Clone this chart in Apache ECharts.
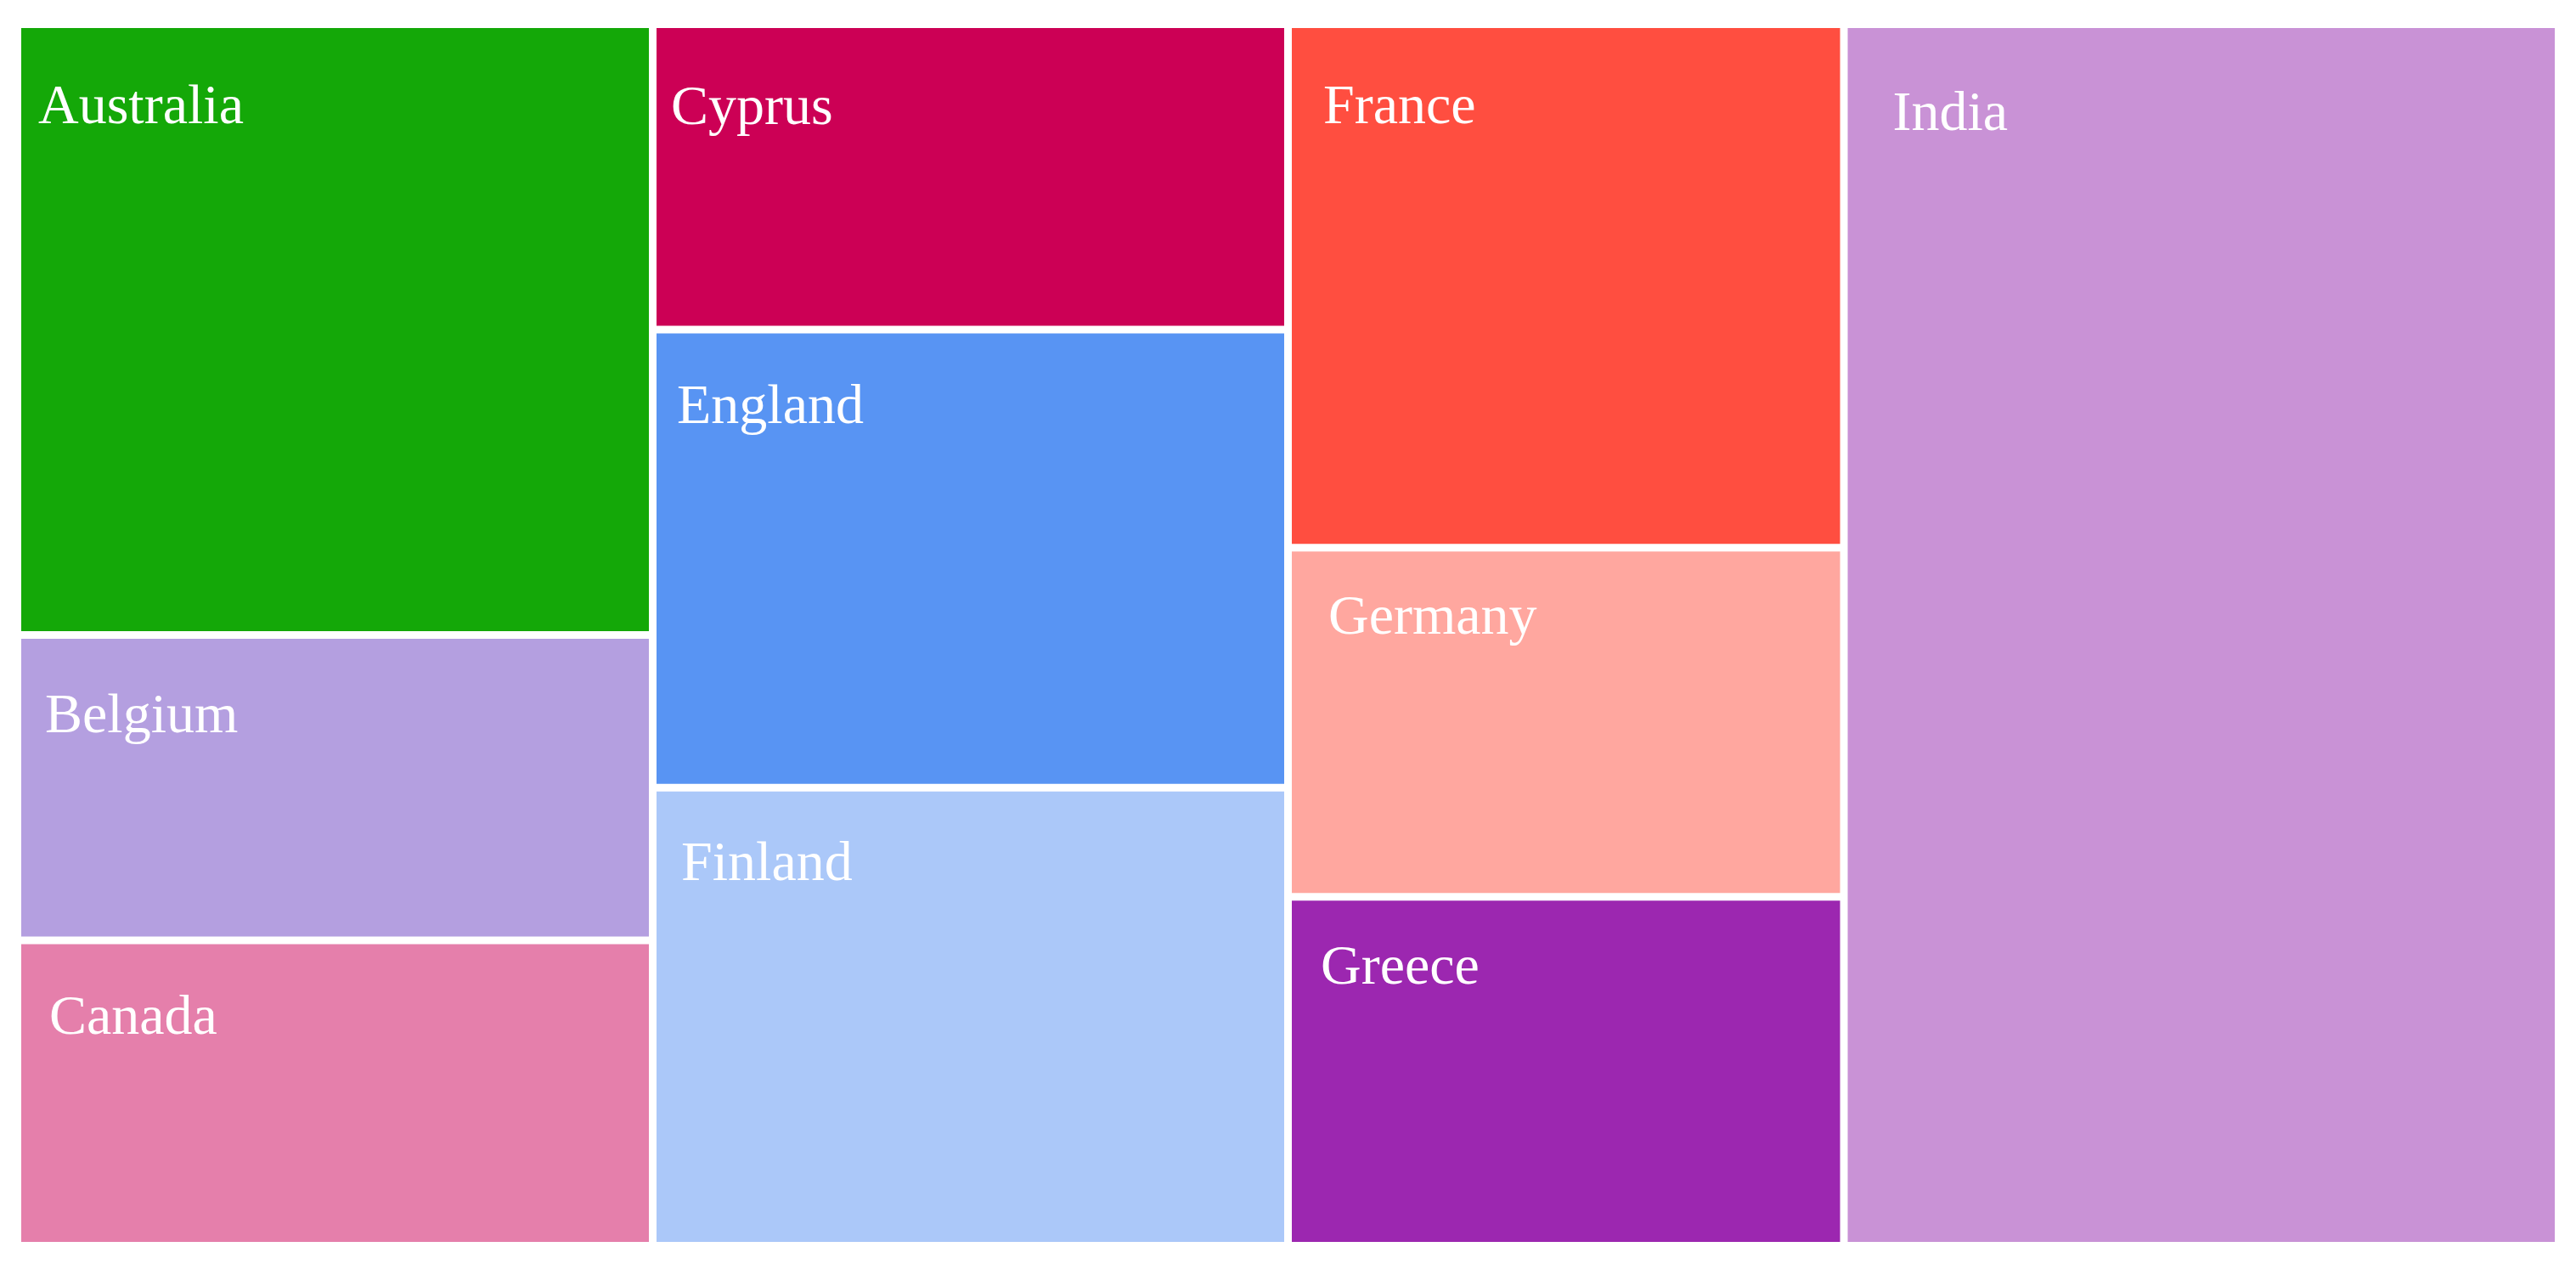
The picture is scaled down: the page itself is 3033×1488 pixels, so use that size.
<!DOCTYPE html>
<html>
<head>
<meta charset="utf-8">
<script src="https://cdn.jsdelivr.net/npm/echarts@6/dist/echarts.min.js"></script>
<style>
  html, body { margin: 0; padding: 0; background: #fff; }
  #chart { width: 3033px; height: 1488px; }
</style>
</head>
<body>
<div id="chart"></div>
<script>
const countries = ['Australia', 'Belgium', 'Canada', 'Cyprus', 'England', 'Finland', 'France', 'Germany', 'Greece', 'India']
const values = [40, 20, 20, 20, 30, 30, 30, 20, 20, 90]
const colors = ['#14a808', '#b49fe0', '#e57fab', '#cc0055', '#5894f3', '#abc8f9', '#ff4e40', '#ffa79f', '#9c27b0', '#c992d6']
// label nudges inside each tile: [top, left]
const labelPads = [[62, 20], [60, 28], [55, 33], [63, 17], [55, 24], [54, 29], [62, 37], [46, 43], [48, 34], [70, 53]]

const chart = echarts.init(document.getElementById('chart'))

const data = countries.map((name, i) => ({
  name: name,
  value: values[i],
  itemStyle: { color: colors[i] },
  label: { padding: [labelPads[i][0], 0, 0, labelPads[i][1]] },
}))

const option = {
  animation: false,
  series: [
    {
      type: 'treemap',
      left: 25,
      top: 33,
      right: 25,
      bottom: 26,
      sort: false,
      roam: false,
      nodeClick: false,
      breadcrumb: { show: false },
      itemStyle: {
        borderWidth: 0,
        gapWidth: 9,
        borderColor: '#fff',
      },
      label: {
        show: true,
        position: 'insideTopLeft',
        distance: 0,
        color: '#fff',
        fontFamily: 'Liberation Serif',
        fontSize: 66,
        lineHeight: 66,
      },
      data: data,
    },
  ],
}
chart.setOption(option)
</script>
</body>
</html>
